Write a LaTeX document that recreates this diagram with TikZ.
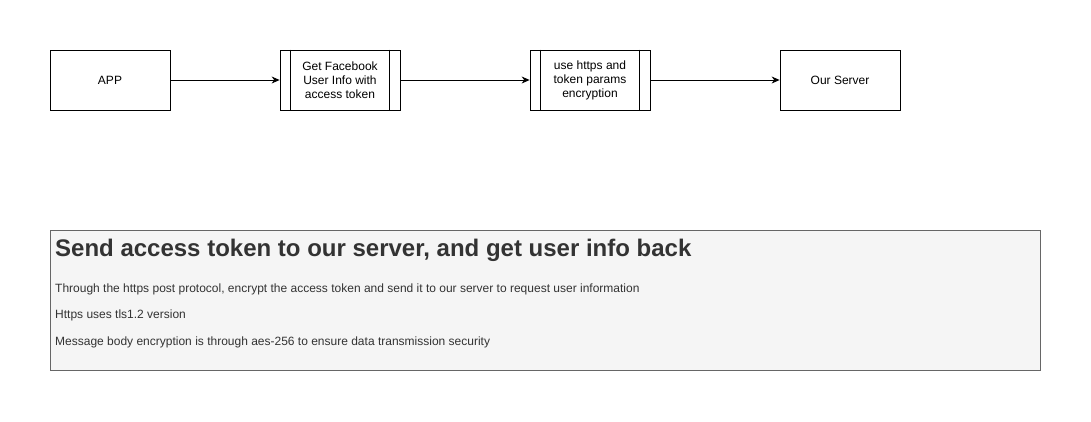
\documentclass[tikz,border=0pt]{standalone}
\usepackage{fontspec}
\setmainfont{Liberation Sans}
\usetikzlibrary{arrows.meta}

\definecolor{txtgray}{HTML}{333333}
\definecolor{boxfill}{HTML}{F5F5F5}
\definecolor{boxline}{HTML}{666666}

\begin{document}
\begin{tikzpicture}[x=1pt, y=-1pt, every node/.style={font=\fontsize{12}{14}\selectfont}, >={Stealth[length=8pt, width=7pt]}]
	\useasboundingbox (0,0) rectangle (1091,421);
	\tikzset{stepbox/.style={draw, line width=0.8pt, minimum width=120pt, minimum height=60pt, align=center, inner sep=0pt}}
	\node[stepbox] (app) at (110,80) {APP};
	\node[stepbox] (fbinfo) at (340,80) {Get Facebook\\User Info with\\access token};
	\node[stepbox] (crypt) at (590,80) {use https and\\token params\\encryption};
	\node[stepbox] (server) at (840,80) {Our Server};
	% inner bars of the sub-process boxes
	\foreach \n in {fbinfo, crypt} {
		\draw[line width=0.8pt] ([xshift=11pt]\n.north west) -- ([xshift=11pt]\n.south west);
		\draw[line width=0.8pt] ([xshift=-11pt]\n.north east) -- ([xshift=-11pt]\n.south east);
	}
	\draw[->, line width=0.8pt] (app) -- (fbinfo);
	\draw[->, line width=0.8pt] (fbinfo) -- (crypt);
	\draw[->, line width=0.8pt] (crypt) -- (server);
	% description panel
	\node[draw=boxline, fill=boxfill, line width=0.8pt, minimum width=990pt, minimum height=140pt, anchor=north west, inner sep=0pt] (panel) at (50,230) {};
	\node[txtgray, anchor=west, font=\fontsize{24}{28}\selectfont\bfseries, inner sep=0pt] (title) at (55,250.5) {Send access token to our server, and get user info back};
	\node[txtgray, anchor=west, inner sep=0pt] (line1) at (55,289) {Through the https post protocol, encrypt the access token and send it to our server to request user information};
	\node[txtgray, anchor=west, inner sep=0pt] (line2) at (55,315) {Https uses tls1.2 version};
	\node[txtgray, anchor=west, inner sep=0pt] (line3) at (55,342) {Message body encryption is through aes-256 to ensure data transmission security};
\end{tikzpicture}
\end{document}
